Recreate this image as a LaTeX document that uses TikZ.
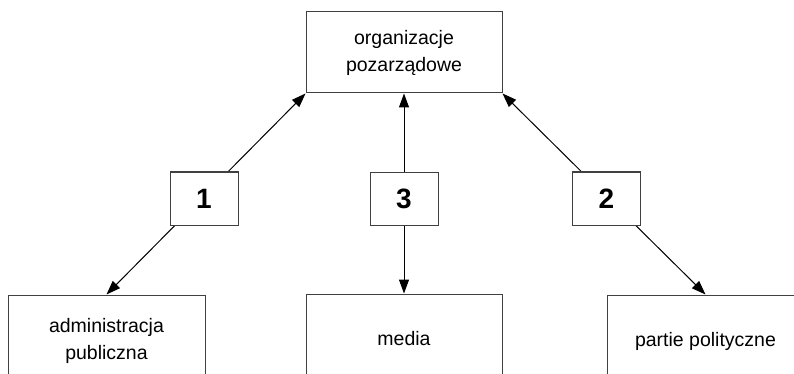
\documentclass[tikz,border=0pt]{standalone}
\usepackage{fontspec}
\setmainfont{Liberation Sans}
\usetikzlibrary{arrows.meta}
\begin{document}
\begin{tikzpicture}[x=1pt,y=-1pt,
  boxstyle/.style={draw=black!75, line width=1pt, fill=white, align=center, inner sep=0pt,
    font=\fontsize{19.5}{27}\selectfont},
  numbox/.style={draw=black!75, line width=1pt, fill=white, inner sep=0pt,
    minimum width=68pt, minimum height=53pt, font=\fontsize{28}{30}\selectfont\bfseries},
  link/.style={line width=1pt, {Triangle[length=14pt,width=10pt]}-{Triangle[length=14pt,width=10pt]}}]
\clip (0,0) rectangle (794,374);
\fill[white] (0,0) rectangle (794,374);
\node[boxstyle, minimum width=196pt, minimum height=81pt] (org) at (404,52.5) {organizacje\\pozarządowe};
\node[boxstyle, minimum width=197pt, minimum height=92pt] (adm) at (106.5,341) {administracja\\publiczna};
\node[boxstyle, minimum width=196pt, minimum height=90pt] (med) at (404,339) {media};
\node[boxstyle, minimum width=197pt, minimum height=92pt] (par) at (705.5,341) {partie polityczne};
\draw[link] (org.south west) -- (adm.north);
\draw[link] (org.south) -- (med.north);
\draw[link] (org.south east) -- (par.north);
\node[numbox] (n1) at (204,198.5) {1};
\node[numbox] (n3) at (404,199) {3};
\node[numbox] (n2) at (606.5,198.5) {2};
\end{tikzpicture}
\end{document}
